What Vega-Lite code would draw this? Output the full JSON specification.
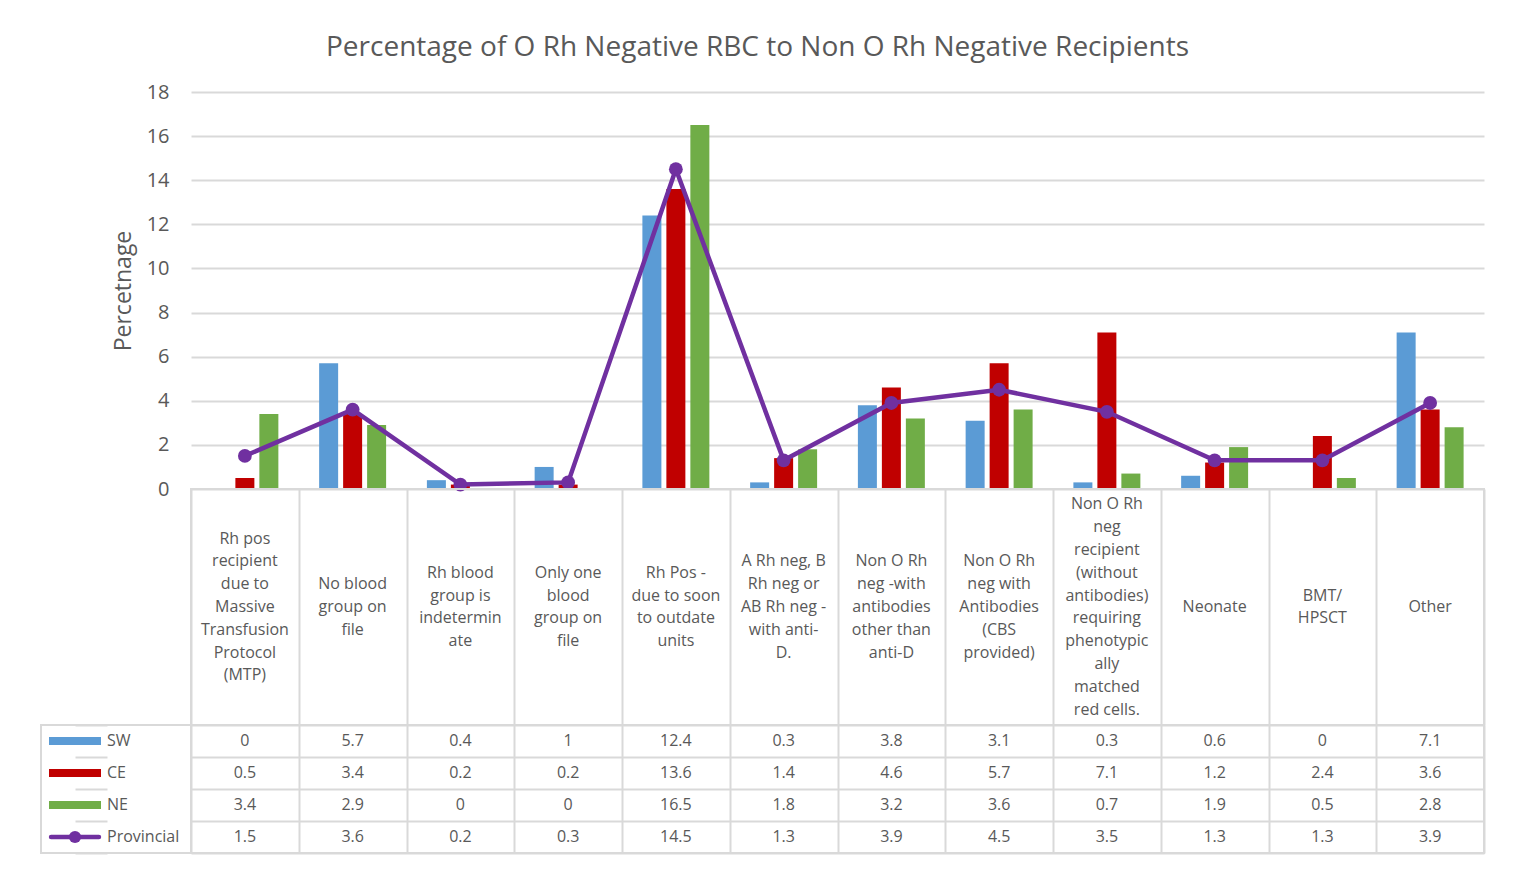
{
  "$schema": "https://vega.github.io/schema/vega-lite/v6.json",
  "padding": {"left": 40, "top": 34, "right": 5, "bottom": 5},
  "title": {"text": "Percentage of O Rh Negative RBC to Non O Rh Negative Recipients", "fontSize": 28, "fontWeight": "normal", "color": "#595959", "anchor": "middle", "offset": 20, "dx": -5},
  "config": {
    "font": "Open Sans",
    "view": {"stroke": null},
    "axis": {"domain": false, "ticks": false, "labelColor": "#595959", "titleColor": "#595959", "gridColor": "#d9d9d9", "gridWidth": 2}
  },
  "columns": 2,
  "spacing": 0,
  "bounds": "flush",
  "align": "each",
  "datasets": {
    "vals": [
      {"cat": "Rh pos|recipient|due to|Massive|Transfusion|Protocol|(MTP)", "series": "SW", "value": 0},
      {"cat": "Rh pos|recipient|due to|Massive|Transfusion|Protocol|(MTP)", "series": "CE", "value": 0.5},
      {"cat": "Rh pos|recipient|due to|Massive|Transfusion|Protocol|(MTP)", "series": "NE", "value": 3.4},
      {"cat": "Rh pos|recipient|due to|Massive|Transfusion|Protocol|(MTP)", "series": "Provincial", "value": 1.5},
      {"cat": "No blood|group on|file", "series": "SW", "value": 5.7},
      {"cat": "No blood|group on|file", "series": "CE", "value": 3.4},
      {"cat": "No blood|group on|file", "series": "NE", "value": 2.9},
      {"cat": "No blood|group on|file", "series": "Provincial", "value": 3.6},
      {"cat": "Rh blood|group is|indetermin|ate", "series": "SW", "value": 0.4},
      {"cat": "Rh blood|group is|indetermin|ate", "series": "CE", "value": 0.2},
      {"cat": "Rh blood|group is|indetermin|ate", "series": "NE", "value": 0},
      {"cat": "Rh blood|group is|indetermin|ate", "series": "Provincial", "value": 0.2},
      {"cat": "Only one|blood|group on|file", "series": "SW", "value": 1},
      {"cat": "Only one|blood|group on|file", "series": "CE", "value": 0.2},
      {"cat": "Only one|blood|group on|file", "series": "NE", "value": 0},
      {"cat": "Only one|blood|group on|file", "series": "Provincial", "value": 0.3},
      {"cat": "Rh Pos -|due to soon|to outdate|units", "series": "SW", "value": 12.4},
      {"cat": "Rh Pos -|due to soon|to outdate|units", "series": "CE", "value": 13.6},
      {"cat": "Rh Pos -|due to soon|to outdate|units", "series": "NE", "value": 16.5},
      {"cat": "Rh Pos -|due to soon|to outdate|units", "series": "Provincial", "value": 14.5},
      {"cat": "A Rh neg, B|Rh neg or|AB Rh neg -|with anti-|D.", "series": "SW", "value": 0.3},
      {"cat": "A Rh neg, B|Rh neg or|AB Rh neg -|with anti-|D.", "series": "CE", "value": 1.4},
      {"cat": "A Rh neg, B|Rh neg or|AB Rh neg -|with anti-|D.", "series": "NE", "value": 1.8},
      {"cat": "A Rh neg, B|Rh neg or|AB Rh neg -|with anti-|D.", "series": "Provincial", "value": 1.3},
      {"cat": "Non O Rh|neg -with|antibodies|other than|anti-D", "series": "SW", "value": 3.8},
      {"cat": "Non O Rh|neg -with|antibodies|other than|anti-D", "series": "CE", "value": 4.6},
      {"cat": "Non O Rh|neg -with|antibodies|other than|anti-D", "series": "NE", "value": 3.2},
      {"cat": "Non O Rh|neg -with|antibodies|other than|anti-D", "series": "Provincial", "value": 3.9},
      {"cat": "Non O Rh|neg with|Antibodies|(CBS|provided)", "series": "SW", "value": 3.1},
      {"cat": "Non O Rh|neg with|Antibodies|(CBS|provided)", "series": "CE", "value": 5.7},
      {"cat": "Non O Rh|neg with|Antibodies|(CBS|provided)", "series": "NE", "value": 3.6},
      {"cat": "Non O Rh|neg with|Antibodies|(CBS|provided)", "series": "Provincial", "value": 4.5},
      {"cat": "Non O Rh|neg|recipient|(without|antibodies)|requiring|phenotypic|ally|matched|red cells.", "series": "SW", "value": 0.3},
      {"cat": "Non O Rh|neg|recipient|(without|antibodies)|requiring|phenotypic|ally|matched|red cells.", "series": "CE", "value": 7.1},
      {"cat": "Non O Rh|neg|recipient|(without|antibodies)|requiring|phenotypic|ally|matched|red cells.", "series": "NE", "value": 0.7},
      {"cat": "Non O Rh|neg|recipient|(without|antibodies)|requiring|phenotypic|ally|matched|red cells.", "series": "Provincial", "value": 3.5},
      {"cat": "Neonate", "series": "SW", "value": 0.6},
      {"cat": "Neonate", "series": "CE", "value": 1.2},
      {"cat": "Neonate", "series": "NE", "value": 1.9},
      {"cat": "Neonate", "series": "Provincial", "value": 1.3},
      {"cat": "BMT/|HPSCT", "series": "SW", "value": 0},
      {"cat": "BMT/|HPSCT", "series": "CE", "value": 2.4},
      {"cat": "BMT/|HPSCT", "series": "NE", "value": 0.5},
      {"cat": "BMT/|HPSCT", "series": "Provincial", "value": 1.3},
      {"cat": "Other", "series": "SW", "value": 7.1},
      {"cat": "Other", "series": "CE", "value": 3.6},
      {"cat": "Other", "series": "NE", "value": 2.8},
      {"cat": "Other", "series": "Provincial", "value": 3.9}
    ],
    "series": [
      {"series": "SW"}, {"series": "CE"}, {"series": "NE"}, {"series": "Provincial"}
    ]
  },
  "concat": [
    {
      "width": 150, "height": 397,
      "data": {"values": []},
      "mark": {"type": "point", "opacity": 0},
      "encoding": {}
    },
    {
      "width": 1293, "height": 397,
      "data": {"name": "vals"},
      "layer": [
        {
          "transform": [{"filter": "datum.series !== 'Provincial'"}],
          "mark": {"type": "bar"},
          "encoding": {
            "x": {"field": "cat", "type": "nominal", "sort": null, "scale": {"paddingInner": 0, "paddingOuter": 0}, "axis": null},
            "xOffset": {"field": "series", "type": "nominal", "sort": ["SW", "CE", "NE"], "scale": {"paddingInner": 0.208, "paddingOuter": 0.85}},
            "y": {"field": "value", "type": "quantitative", "scale": {"domain": [0, 18]},
              "axis": {"title": "Percetnage", "titleFontSize": 23, "titleFontWeight": "normal", "labelFontSize": 20, "values": [0, 2, 4, 6, 8, 10, 12, 14, 16, 18], "grid": true, "labelPadding": 22, "titlePadding": 11}},
            "color": {"field": "series", "type": "nominal", "scale": {"domain": ["SW", "CE", "NE", "Provincial"], "range": ["#5b9bd5", "#c00000", "#70ad47", "#7030a0"]}, "legend": null}
          }
        },
        {
          "transform": [{"filter": "datum.series === 'Provincial'"}],
          "mark": {"type": "line", "color": "#7030a0", "strokeWidth": 4.5, "point": {"filled": true, "size": 190, "color": "#7030a0", "opacity": 1}},
          "encoding": {
            "x": {"field": "cat", "type": "nominal", "sort": null},
            "y": {"field": "value", "type": "quantitative"}
          }
        }
      ]
    },
    {
      "width": 150, "height": 236,
      "data": {"values": []},
      "mark": {"type": "point", "opacity": 0},
      "encoding": {}
    },
    {
      "width": 1293, "height": 236,
      "data": {"name": "vals"},
      "transform": [
        {"filter": "datum.series === 'SW'"},
        {"calculate": "length(split(datum.cat, '|'))", "as": "nlines"}
      ],
      "view": {"stroke": "#d9d9d9", "strokeWidth": 2},
      "mark": {"type": "text", "lineBreak": "|", "lineHeight": 22.8, "fontSize": 16, "color": "#595959", "baseline": "middle"},
      "encoding": {
        "x": {"field": "cat", "type": "nominal", "sort": null, "scale": {"paddingInner": 0, "paddingOuter": 0}, "axis": {"labels": false, "grid": true, "tickBand": "extent", "title": null}},
        "y": {"field": "nlines", "type": "quantitative", "scale": {"domain": [-9.351, 11.351], "zero": false, "nice": false}, "axis": null},
        "text": {"field": "cat"}
      }
    },
    {
      "width": 150, "height": 128,
      "data": {"name": "series"},
      "view": {"stroke": "#d9d9d9", "strokeWidth": 2},
      "encoding": {
        "y": {"field": "series", "type": "nominal", "sort": ["SW", "CE", "NE", "Provincial"], "scale": {"paddingInner": 0, "paddingOuter": 0}, "axis": {"labels": false, "grid": true, "tickBand": "extent", "title": null}}
      },
      "layer": [
        {
          "transform": [{"filter": "datum.series !== 'Provincial'"}],
          "mark": {"type": "point", "shape": "M-1,-0.154H1V0.154H-1Z", "size": 2704, "filled": true, "opacity": 1},
          "encoding": {
            "x": {"datum": "key", "type": "nominal", "scale": {"type": "point", "domain": ["key", "name"], "range": [34, 66], "padding": 0}, "axis": null},
            "color": {"field": "series", "type": "nominal", "scale": {"domain": ["SW", "CE", "NE", "Provincial"], "range": ["#5b9bd5", "#c00000", "#70ad47", "#7030a0"]}, "legend": null}
          }
        },
        {
          "transform": [{"filter": "datum.series === 'Provincial'"}],
          "mark": {"type": "point", "shape": "M-0.92,0H0.92", "size": 2704, "filled": false, "strokeWidth": 4.5, "strokeCap": "round", "color": "#7030a0", "opacity": 1},
          "encoding": {"x": {"datum": "key", "type": "nominal"}}
        },
        {
          "transform": [{"filter": "datum.series === 'Provincial'"}],
          "mark": {"type": "point", "shape": "circle", "size": 150, "filled": true, "color": "#7030a0", "opacity": 1},
          "encoding": {"x": {"datum": "key", "type": "nominal"}}
        },
        {
          "mark": {"type": "text", "align": "left", "fontSize": 16, "color": "#595959"},
          "encoding": {"x": {"datum": "name", "type": "nominal"}, "text": {"field": "series"}}
        }
      ]
    },
    {
      "width": 1293, "height": 128,
      "data": {"name": "vals"},
      "view": {"stroke": "#d9d9d9", "strokeWidth": 2},
      "mark": {"type": "text", "fontSize": 16, "color": "#595959"},
      "encoding": {
        "x": {"field": "cat", "type": "nominal", "sort": null, "scale": {"paddingInner": 0, "paddingOuter": 0}, "axis": {"labels": false, "grid": true, "tickBand": "extent", "title": null}},
        "y": {"field": "series", "type": "nominal", "sort": ["SW", "CE", "NE", "Provincial"], "scale": {"paddingInner": 0, "paddingOuter": 0}, "axis": {"labels": false, "grid": true, "tickBand": "extent", "title": null}},
        "text": {"field": "value", "type": "quantitative", "format": ""}
      }
    }
  ]
}
